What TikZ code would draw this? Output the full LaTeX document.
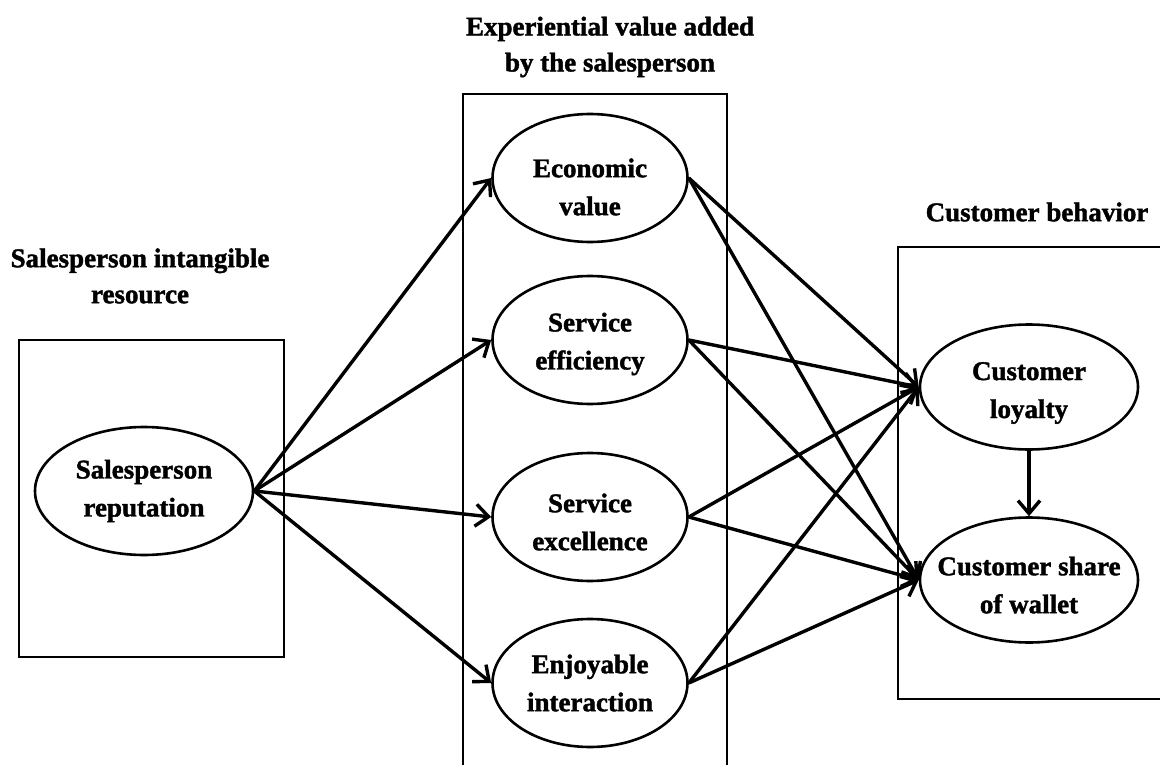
\documentclass[tikz,border=0pt]{standalone}
\usepackage{fontspec}
\setmainfont{Liberation Serif}[BoldFeatures={FakeBold=1.5}]
\usetikzlibrary{shapes.geometric,arrows.meta}
\begin{document}
\begin{tikzpicture}[x=1pt,y=-1pt,
  every node/.style={font=\fontsize{27}{36}\selectfont\bfseries, align=center, inner sep=0pt},
  intext/.style={font=\fontsize{27}{38}\selectfont\bfseries},
  construct/.style={draw, ellipse, line width=2.6pt, minimum width=218pt, minimum height=128pt},
  midconstruct/.style={construct, minimum width=195pt},
  groupbox/.style={draw, line width=2.6pt},
  link/.style={line width=3.4pt, -{Straight Barb[length=13pt,width=22pt]}}]
\useasboundingbox (0,0) rectangle (1160,765);

% group frames
\draw[groupbox] (19,340) rectangle (284,657);
\draw[groupbox] (463,765) -- (463,94) -- (727,94) -- (727,765);
\draw[groupbox] (1160,247) -- (898,247) -- (898,699) -- (1160,699);

% group titles
\node (tres) at (140,276) {Salesperson intangible\\resource};
\node (texp) at (610,47) {Experiential value added\\by the salesperson};
\node (tcus) at (1037,212) {Customer behavior};

% constructs
\node[construct] (rep) at (144,491) {};
\node[midconstruct] (eco) at (590,178) {};
\node[midconstruct] (eff) at (590,340) {};
\node[midconstruct] (exc) at (590,517) {};
\node[midconstruct] (enj) at (590,683) {};
\node[construct, minimum height=125pt] (loy) at (1029,387) {};
\node[construct, minimum height=125pt] (shr) at (1029,580) {};

\node[intext] (repT) at (rep) {Salesperson\\reputation};
\node[intext] (ecoT) at ([yshift=-9pt]eco) {Economic\\value};
\node[intext] (effT) at ([yshift=-4pt]eff) {Service\\efficiency};
\node[intext] (excT) at ([yshift=-5pt]exc) {Service\\excellence};
\node[intext] (enjT) at (enj) {Enjoyable\\interaction};
\node[intext] (loyT) at ([yshift=-6pt]loy) {Customer\\loyalty};
\node[intext] (shrT) at ([yshift=-5pt]shr) {Customer share\\of wallet};

% paths
\foreach \m in {eco,eff,exc,enj}
  \draw[link] (rep.east) -- (\m.west);
\foreach \m in {eco,eff,exc,enj}{
  \draw[link] (\m.east) -- (loy.west);
  \draw[link] (\m.east) -- (shr.west);
}
\draw[link] (loy.south) -- (shr.north);
\end{tikzpicture}
\end{document}
